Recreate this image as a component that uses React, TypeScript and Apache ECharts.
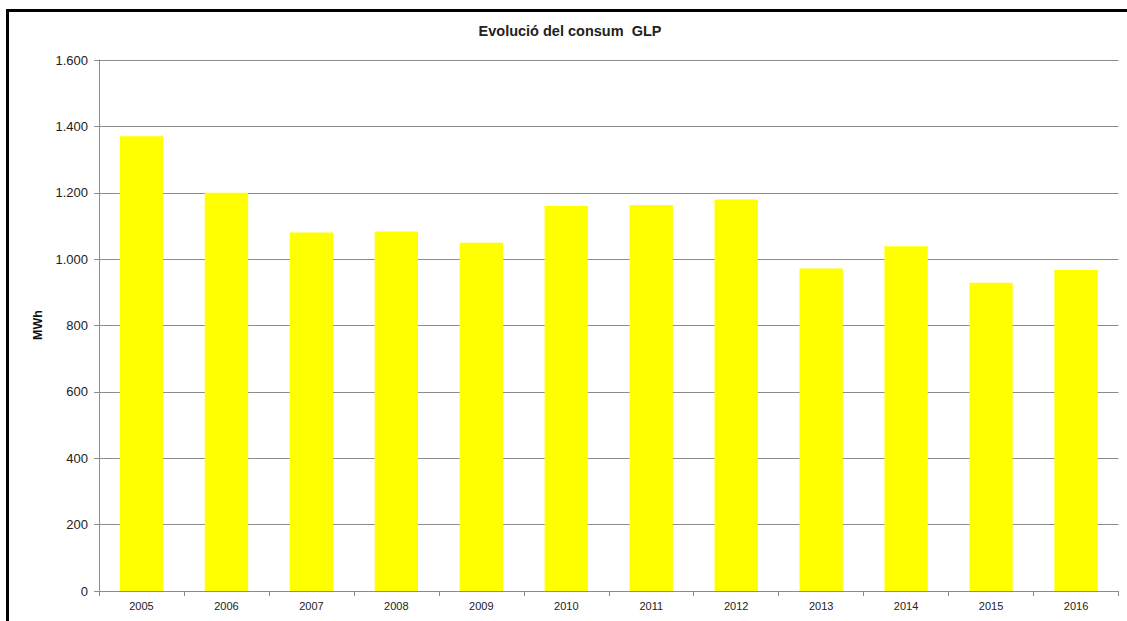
import React, { useEffect, useRef } from "react";
import * as echarts from "echarts";

const years = ["2005", "2006", "2007", "2008", "2009", "2010", "2011", "2012", "2013", "2014", "2015", "2016"];
const consumption = [1370, 1200, 1080, 1083, 1049, 1160, 1163, 1180, 972, 1039, 929, 967];
const chartTitle = "Evolució del consum  GLP";
const yAxisTitle = "MWh";

function fmt(v: number): string {
  return String(v).replace(/\B(?=(\d{3})+(?!\d))/g, ".");
}

export default function App() {
  const ref = useRef<HTMLDivElement>(null);
  useEffect(() => {
    if (!ref.current) return;
    const chart = echarts.init(ref.current, null, { renderer: "svg" });
    const grey = "#8c8c8c";
    chart.setOption({
      animation: false,
      backgroundColor: "#ffffff",
      grid: { left: 99, right: 8.5, top: 60, bottom: 30 },
      xAxis: {
        type: "category",
        data: years,
        axisLine: { lineStyle: { color: grey, width: 1 } },
        axisTick: { show: true, length: 5, lineStyle: { color: grey } },
        axisLabel: { color: "#222", fontSize: 11, fontFamily: "Liberation Sans", margin: 9 },
      },
      yAxis: {
        type: "value",
        min: 0,
        max: 1600,
        interval: 200,
        axisLine: { show: true, lineStyle: { color: grey, width: 1 } },
        axisTick: { show: true, length: 5, lineStyle: { color: grey } },
        splitLine: { lineStyle: { color: grey, width: 1 } },
        axisLabel: {
          color: "#222",
          fontSize: 13,
          fontFamily: "Liberation Sans",
          margin: 11,
          formatter: (v: number) => fmt(v),
        },
      },
      series: [
        {
          type: "bar",
          data: consumption,
          barCategoryGap: "49%",
          itemStyle: { color: "#ffff00" },
        },
      ],
      graphic: [
        {
          type: "text",
          x: 570,
          y: 31,
          style: {
            text: chartTitle,
            fill: "#222",
            font: "bold 14.5px 'Liberation Sans'",
            textAlign: "center",
            textVerticalAlign: "middle",
          },
        },
        {
          type: "text",
          x: 38,
          y: 325,
          rotation: Math.PI / 2,
          style: {
            text: yAxisTitle,
            fill: "#111",
            font: "bold 12.5px 'Liberation Sans'",
            textAlign: "center",
            textVerticalAlign: "middle",
          },
        },
        {
          type: "line",
          shape: { x1: 7.5, y1: 9, x2: 7.5, y2: 621 },
          style: { stroke: "#000", lineWidth: 3 },
        },
        {
          type: "line",
          shape: { x1: 6, y1: 10.5, x2: 1127, y2: 10.5 },
          style: { stroke: "#000", lineWidth: 3 },
        },
      ],
    });
    return () => chart.dispose();
  }, []);
  return (
    <div
      ref={ref}
      style={{ position: "fixed", left: 0, top: 0, width: 1127, height: 621, background: "#fff" }}
    />
  );
}
